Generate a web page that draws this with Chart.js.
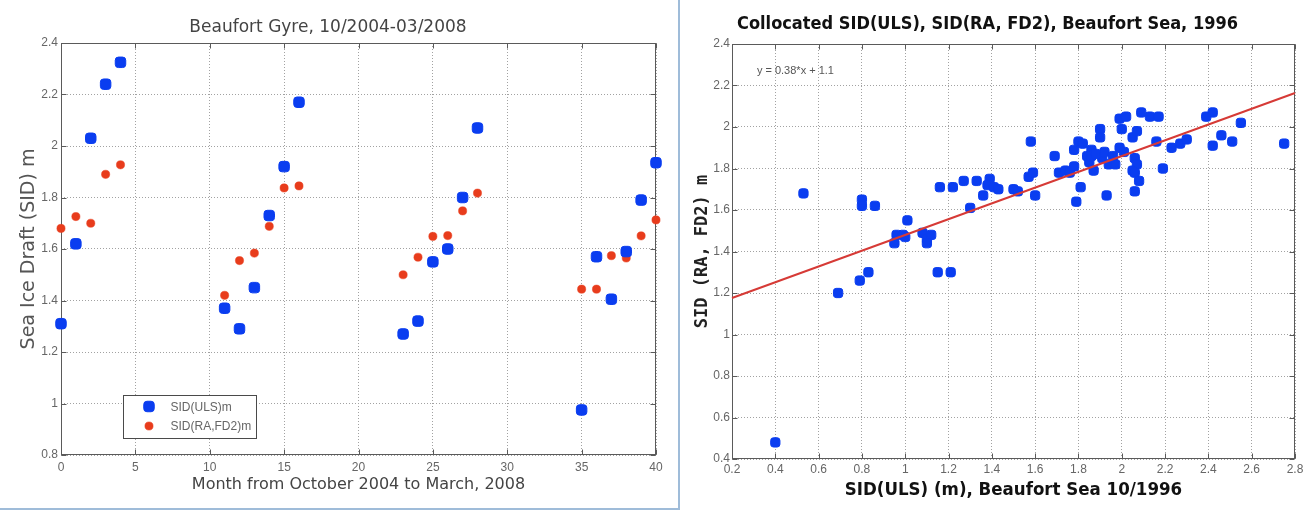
<!DOCTYPE html>
<html>
<head>
<meta charset="utf-8">
<script src="https://cdn.jsdelivr.net/npm/chart.js@4.4.1/dist/chart.umd.min.js"></script>
<style>
  html, body { margin: 0; padding: 0; background: #fff; width: 1313px; height: 511px; overflow: hidden; }
  #left  { position: absolute; left: 0; top: 0; width: 678px; height: 508px;
           border-right: 2px solid #9fbcd9; border-bottom: 2px solid #9fbcd9; }
  #right { position: absolute; left: 680px; top: 0; width: 633px; height: 511px; }
  canvas { display: block; }
</style>
</head>
<body>
<div id="left"><canvas id="gyre" width="678" height="508"></canvas></div>
<div id="right"><canvas id="collocated" width="633" height="511"></canvas></div>
<script>
// ---- Beaufort Gyre, monthly ice draft (month index counted from October 2004) ----
const months    = [0, 1, 2, 3, 4, 11, 12, 13, 14, 15, 16, 23, 24, 25, 26, 27, 28, 35, 36, 37, 38, 39, 40];
const sidULS    = [1.31, 1.62, 2.03, 2.24, 2.325, 1.37, 1.29, 1.45, 1.73, 1.92, 2.17, 1.27, 1.32, 1.55, 1.60, 1.80, 2.07, 0.975, 1.57, 1.405, 1.59, 1.79, 1.935];
const sidRAFD2  = [1.68, 1.726, 1.70, 1.89, 1.927, 1.42, 1.555, 1.584, 1.688, 1.837, 1.845, 1.50, 1.568, 1.649, 1.652, 1.748, 1.817, 1.444, 1.444, 1.574, 1.565, 1.651, 1.713];

const gyreXTicks  = [0, 5, 10, 15, 20, 25, 30, 35, 40];
const gyreXLabels = ['0', '5', '10', '15', '20', '25', '30', '35', '40'];
const gyreYTicks  = [0.8, 1.0, 1.2, 1.4, 1.6, 1.8, 2.0, 2.2, 2.4];
const gyreYLabels = ['0.8', '1', '1.2', '1.4', '1.6', '1.8', '2', '2.2', '2.4'];

// ---- Beaufort Sea 1996: collocated ULS draft (x) vs RA/FD2 draft (y) ----
const ulsDraft = [0.40, 0.53, 0.69, 0.79, 0.83, 0.80, 0.80, 0.86, 0.95, 0.96, 0.99, 1.00, 1.01,
                  1.08, 1.10, 1.12, 1.10, 1.15, 1.21, 1.16, 1.22, 1.27, 1.30, 1.33, 1.36, 1.39,
                  1.38, 1.41, 1.43, 1.50, 1.52, 1.57, 1.59, 1.58, 1.60, 1.69, 1.71, 1.74, 1.76,
                  1.78, 1.78, 1.80, 1.81, 1.79, 1.84, 1.86, 1.85, 1.87, 1.82, 1.86, 1.90, 1.90,
                  1.91, 1.92, 1.94, 1.93, 1.88, 1.97, 1.96, 1.99, 1.99, 2.02, 2.00, 2.01, 2.05,
                  2.07, 2.06, 2.07, 2.05, 2.06, 2.08, 2.06, 2.09, 2.13, 2.17, 2.16, 2.19, 2.23,
                  2.27, 2.30, 2.39, 2.42, 2.42, 2.46, 2.51, 2.55, 2.75];
const raDraft  = [0.48, 1.68, 1.20, 1.26, 1.30, 1.65, 1.62, 1.62, 1.44, 1.48, 1.48, 1.47, 1.55,
                  1.49, 1.46, 1.48, 1.44, 1.30, 1.30, 1.71, 1.71, 1.74, 1.61, 1.74, 1.67, 1.75,
                  1.72, 1.71, 1.70, 1.70, 1.69, 1.76, 1.78, 1.93, 1.67, 1.86, 1.78, 1.79, 1.78,
                  1.81, 1.89, 1.93, 1.71, 1.64, 1.86, 1.89, 1.83, 1.79, 1.92, 1.86, 1.99, 1.95,
                  1.85, 1.88, 1.82, 1.67, 1.87, 1.82, 1.86, 1.90, 2.04, 2.05, 1.99, 1.88, 1.95,
                  1.98, 1.85, 1.82, 1.79, 1.78, 1.74, 1.69, 2.07, 2.05, 2.05, 1.93, 1.80, 1.90,
                  1.92, 1.94, 2.05, 2.07, 1.91, 1.96, 1.93, 2.02, 1.92];

// least-squares fit quoted on the plot: y = 0.38*x + 1.1
const fitSlope = 0.38;
const fitIntercept = 1.1;
const fitRange = [0.2, 2.8];

const seaXTicks  = [0.2, 0.4, 0.6, 0.8, 1.0, 1.2, 1.4, 1.6, 1.8, 2.0, 2.2, 2.4, 2.6, 2.8];
const seaXLabels = ['0.2', '0.4', '0.6', '0.8', '1', '1.2', '1.4', '1.6', '1.8', '2', '2.2', '2.4', '2.6', '2.8'];
const seaYTicks  = [0.4, 0.6, 0.8, 1.0, 1.2, 1.4, 1.6, 1.8, 2.0, 2.2, 2.4];
const seaYLabels = ['0.4', '0.6', '0.8', '1', '1.2', '1.4', '1.6', '1.8', '2', '2.2', '2.4'];

// ---- shared styling ----
const BLUE = '#0a3df0';
const RED  = '#e83c1c';
const LINE_RED = '#d63a36';
const SANS = '"Liberation Sans", Arial, sans-serif';
const COND = '"DejaVu Sans Condensed", "DejaVu Sans", sans-serif';
const GRID = '#a2a2a2';

// axes box with inward tick marks, in the style of a classic plotting package
const framePlugin = {
  id: 'frame',
  beforeDatasetsDraw(chart) {
    const { ctx, chartArea: a, scales: { x, y } } = chart;
    const L = Math.round(a.left) + 0.5, R = Math.round(a.right) - 0.5;
    const T = Math.round(a.top) + 0.5, B = Math.round(a.bottom) - 0.5;
    ctx.save();
    ctx.strokeStyle = '#5a5a5a';
    ctx.lineWidth = 1;
    ctx.strokeRect(L, T, R - L, B - T);
    ctx.beginPath();
    const len = 5;
    x.ticks.forEach(t => {
      const px = Math.round(x.getPixelForValue(t.value)) + 0.5;
      ctx.moveTo(px, B); ctx.lineTo(px, B - len);
      ctx.moveTo(px, T); ctx.lineTo(px, T + len);
    });
    y.ticks.forEach(t => {
      const py = Math.round(y.getPixelForValue(t.value)) + 0.5;
      ctx.moveTo(L, py); ctx.lineTo(L + len, py);
      ctx.moveTo(R, py); ctx.lineTo(R - len, py);
    });
    ctx.stroke();
    ctx.restore();
  }
};

// boxed legend placed inside the lower-left of the axes
const boxLegendPlugin = {
  id: 'boxLegend',
  afterDraw(chart) {
    const { ctx, chartArea: a } = chart;
    const bx = Math.round(a.left + 62) + 0.5;
    const bw = 133, bh = 43;
    const by = Math.round(a.bottom - 17 - bh) + 0.5;
    ctx.save();
    ctx.fillStyle = '#fff';
    ctx.fillRect(bx, by, bw, bh);
    ctx.strokeStyle = '#4a4a4a';
    ctx.lineWidth = 1;
    ctx.strokeRect(bx, by, bw, bh);
    chart.data.datasets.forEach((ds, i) => {
      const cy = by + 11 + i * 19.5;
      ctx.fillStyle = ds.backgroundColor;
      ctx.strokeStyle = ds.borderColor;
      ctx.lineWidth = ds.borderWidth;
      Chart.helpers.drawPoint(ctx, {
        pointStyle: ds.pointStyle, radius: ds.pointRadius, rotation: 0, borderWidth: ds.borderWidth
      }, bx + 25.5, cy);
      ctx.fillStyle = '#666';
      ctx.font = '12px ' + SANS;
      ctx.textBaseline = 'middle';
      ctx.textAlign = 'left';
      ctx.fillText(ds.label, bx + 47, cy + 1);
    });
    ctx.restore();
  }
};

// fit equation written in the upper-left corner of the axes
const equationPlugin = {
  id: 'equation',
  afterDatasetsDraw(chart) {
    const { ctx, scales: { x, y } } = chart;
    ctx.save();
    ctx.fillStyle = '#555';
    ctx.font = '11px ' + SANS;
    ctx.textBaseline = 'middle';
    ctx.textAlign = 'left';
    ctx.fillText('y = ' + fitSlope + '*x + ' + fitIntercept, x.getPixelForValue(0.315), y.getPixelForValue(2.268));
    ctx.restore();
  }
};

function fixedTicks(values) {
  return scale => { scale.ticks = values.map(v => ({ value: v })); };
}
function fixSize(prop, size) {
  return scale => {
    scale[prop] = size;
    scale.paddingLeft = 0; scale.paddingRight = 0;
    scale.paddingTop = 0; scale.paddingBottom = 0;
  };
}

// ---- left chart ----
new Chart(document.getElementById('gyre'), {
  type: 'scatter',
  data: {
    datasets: [
      {
        label: 'SID(ULS)m',
        data: months.map((m, i) => ({ x: m, y: sidULS[i] })),
        pointStyle: 'rectRounded', pointRadius: 6.1,
        backgroundColor: BLUE, borderColor: BLUE, borderWidth: 1, clip: false
      },
      {
        label: 'SID(RA,FD2)m',
        data: months.map((m, i) => ({ x: m, y: sidRAFD2[i] })),
        pointStyle: 'circle', pointRadius: 4.1,
        backgroundColor: RED, borderColor: RED, borderWidth: 0.5, clip: false
      }
    ]
  },
  options: {
    responsive: false, animation: false, events: [],
    layout: { padding: { left: 0, right: 22, top: 0, bottom: 0 } },
    plugins: {
      legend: { display: false }, tooltip: { enabled: false },
      title: {
        display: true, text: 'Beaufort Gyre, 10/2004-03/2008', color: '#444',
        font: { family: 'DejaVu Sans', size: 17, weight: 'normal', lineHeight: 1.2 },
        padding: { top: 17, bottom: 5.6 }
      }
    },
    scales: {
      x: {
        type: 'linear', min: 0, max: 40,
        afterBuildTicks: fixedTicks(gyreXTicks),
        afterFit: fixSize('height', 53),
        ticks: { callback: (v, i) => gyreXLabels[i], color: '#666', padding: 5, maxRotation: 0,
                 font: { family: SANS, size: 12 } },
        grid: { color: GRID, drawTicks: false },
        border: { display: false, dash: [1, 2] },
        title: { display: true, text: 'Month from October 2004 to March, 2008', color: '#444',
                 font: { family: 'DejaVu Sans', size: 16, lineHeight: 1.2 }, padding: { top: 0, bottom: 13.4 } }
      },
      y: {
        type: 'linear', min: 0.8, max: 2.4,
        afterBuildTicks: fixedTicks(gyreYTicks),
        afterFit: fixSize('width', 61),
        ticks: { callback: (v, i) => gyreYLabels[i], color: '#666', padding: 3,
                 font: { family: SANS, size: 12 } },
        grid: { color: GRID, drawTicks: false },
        border: { display: false, dash: [1, 2] },
        title: { display: true, text: 'Sea Ice Draft (SID) m', color: '#555',
                 font: { family: 'DejaVu Sans', size: 19, lineHeight: 1.2 }, padding: { top: 17.6, bottom: 0 } }
      }
    }
  },
  plugins: [framePlugin, boxLegendPlugin]
});

// ---- right chart ----
new Chart(document.getElementById('collocated'), {
  type: 'scatter',
  data: {
    datasets: [
      {
        label: 'fit',
        data: fitRange.map(v => ({ x: v, y: fitSlope * v + fitIntercept })),
        showLine: true, borderColor: LINE_RED, borderWidth: 2, pointRadius: 0,
        clip: false, order: 1
      },
      {
        label: 'SID(RA, FD2) vs SID(ULS)',
        data: ulsDraft.map((v, i) => ({ x: v, y: raDraft[i] })),
        pointStyle: 'rectRounded', pointRadius: 5.4,
        backgroundColor: BLUE, borderColor: BLUE, borderWidth: 1, clip: false, order: 2
      }
    ]
  },
  options: {
    responsive: false, animation: false, events: [],
    layout: { padding: { left: 0, right: 18, top: 0, bottom: 0 } },
    plugins: {
      legend: { display: false }, tooltip: { enabled: false },
      title: {
        display: true, text: 'Collocated SID(ULS), SID(RA, FD2), Beaufort Sea, 1996', color: '#111',
        font: { family: COND, size: 18, weight: 'bold', lineHeight: 1.2 },
        padding: { top: 13.7, bottom: 8.7 }
      }
    },
    scales: {
      x: {
        type: 'linear', min: 0.2, max: 2.8,
        afterBuildTicks: fixedTicks(seaXTicks),
        afterFit: fixSize('height', 52),
        ticks: { callback: (v, i) => seaXLabels[i], color: '#666', padding: 3, maxRotation: 0,
                 autoSkip: false, font: { family: SANS, size: 12 } },
        grid: { color: GRID, drawTicks: false },
        border: { display: false, dash: [1, 2] },
        title: { display: true, text: 'SID(ULS) (m), Beaufort Sea 10/1996', color: '#111',
                 font: { family: COND, size: 18.5, weight: 'bold', lineHeight: 1.2 },
                 padding: { top: 0, bottom: 9.9 } }
      },
      y: {
        type: 'linear', min: 0.4, max: 2.4,
        afterBuildTicks: fixedTicks(seaYTicks),
        afterFit: fixSize('width', 52),
        ticks: { callback: (v, i) => seaYLabels[i], color: '#666', padding: 2,
                 autoSkip: false, font: { family: SANS, size: 12 } },
        grid: { color: GRID, drawTicks: false },
        border: { display: false, dash: [1, 2] },
        title: { display: true, text: 'SID (RA, FD2) m', color: '#222',
                 font: { family: '"DejaVu Sans Mono", monospace', size: 17, weight: 'bold', lineHeight: 1.2 },
                 padding: { top: 12.8, bottom: 0 } }
      }
    }
  },
  plugins: [framePlugin, equationPlugin]
});
</script>
</body>
</html>
